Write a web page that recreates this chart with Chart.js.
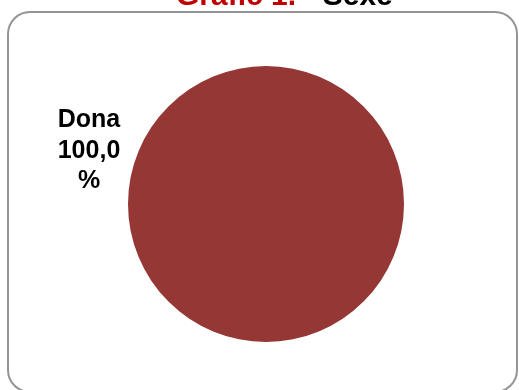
<!DOCTYPE html>
<html>
<head>
<meta charset="utf-8">
<script src="https://cdn.jsdelivr.net/npm/chart.js@4.4.1/dist/chart.umd.min.js"></script>
<style>
  html, body { margin: 0; padding: 0; background: #fff; overflow: hidden; }
  #my-chart { display: block; }
</style>
</head>
<body>
<canvas id="my-chart" width="519" height="390"></canvas>
<script>
"use strict";

// chart data
const categories = ["Dona"];
const values = [100.0];
const labelTexts = ["100,0", "%"];
const colors = ["#953735"];

// rounded frame + two coloured title parts
const framePlugin = {
  id: "frame",
  beforeDraw(chart) {
    const ctx = chart.ctx;
    ctx.save();
    ctx.strokeStyle = "#959595";
    ctx.lineWidth = 2;
    ctx.beginPath();
    ctx.roundRect(8, 12, 509, 380, 22);
    ctx.stroke();

    ctx.font = "bold 30px 'Liberation Sans', Arial, sans-serif";
    ctx.textBaseline = "alphabetic";
    ctx.textAlign = "left";
    const part1 = "Gràfic 1.";
    const part2 = " - Sexe";
    const w1 = ctx.measureText(part1).width;
    const x0 = 176;
    ctx.fillStyle = "#C00000";
    ctx.fillText(part1, x0, 5);
    ctx.fillStyle = "#000";
    ctx.fillText(part2, x0 + w1, 5);
    ctx.restore();
  }
};

// label for the slice, placed outside to the left
const sliceLabel = {
  id: "sliceLabel",
  afterDatasetsDraw(chart) {
    const ctx = chart.ctx;
    const arc = chart.getDatasetMeta(0).data[0];
    const cx = arc.x - arc.outerRadius - 39;
    const top = arc.y - 77;
    const lines = [categories[0]].concat(labelTexts);
    ctx.save();
    ctx.font = "bold 25px 'Liberation Sans', Arial, sans-serif";
    ctx.fillStyle = "#000";
    ctx.textAlign = "center";
    ctx.textBaseline = "alphabetic";
    for (let i = 0; i < lines.length; i++) {
      ctx.fillText(lines[i], cx, top + i * 30.5);
    }
    ctx.restore();
  }
};

const ctx = document.getElementById("my-chart");
new Chart(ctx, {
  type: "pie",
  data: {
    labels: categories,
    datasets: [{
      data: values,
      backgroundColor: colors,
      borderWidth: 0
    }]
  },
  options: {
    responsive: false,
    animation: false,
    layout: {
      padding: { left: 128, right: 115, top: 66, bottom: 48 }
    },
    plugins: {
      legend: { display: false },
      tooltip: { enabled: false },
      title: { display: false }
    }
  },
  plugins: [framePlugin, sliceLabel]
});
</script>
</body>
</html>
